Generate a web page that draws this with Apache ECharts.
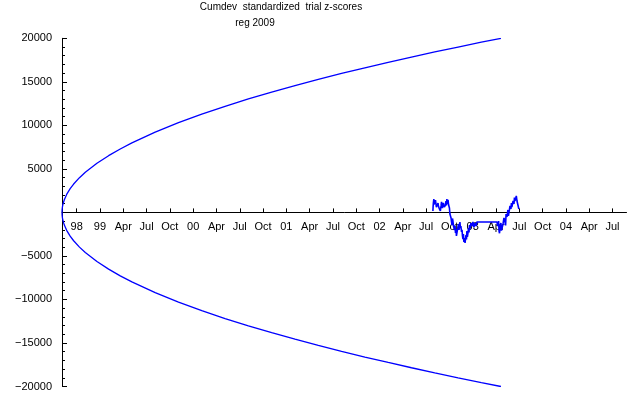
<!DOCTYPE html>
<html>
<head>
<meta charset="utf-8">
<script src="https://cdn.jsdelivr.net/npm/echarts@6/dist/echarts.min.js"></script>
<style>
  html, body { margin: 0; padding: 0; background: #fff; }
  #chart { width: 640px; height: 395px; }
</style>
</head>
<body>
<div id="chart"></div>
<script>
// ---- data (x in quarters since start of experiment, y = cumulative deviation) ----
const titleLine1 = 'Cumdev  standardized  trial z-scores';
const titleLine2 = 'reg 2009';

const xTickLabels = ['98','99','Apr','Jul','Oct','00','Apr','Jul','Oct','01','Apr','Jul','Oct',
                     '02','Apr','Jul','Oct','03','Apr','Jul','Oct','04','Apr','Jul'];
const firstTickOffset = 0.63;   // quarter position of first labelled tick
const xMax = 24.23;

const yMin = -20000, yMax = 20000, yStep = 5000;

// envelope
const envT     = [0, 0.005, 0.01, 0.02, 0.05, 0.1, 0.2, 0.35, 0.5, 0.75, 1, 1.5, 2, 2.5, 3, 4, 5, 6, 7, 8, 9, 10, 11, 12, 13, 14, 15, 16, 17, 18, 18.84];
const envUpper = [0, 326, 461, 652, 1030, 1457, 2061, 2726, 3258, 3990, 4608, 5643, 6516, 7285, 7981, 9216, 10303, 11287, 12191, 13033, 13823, 14571, 15282, 15962, 16614, 17241, 17846, 18431, 18999, 19549, 20000];
const envLower = [0, -326, -461, -652, -1030, -1457, -2061, -2726, -3258, -3990, -4608, -5643, -6516, -7285, -7981, -9216, -10303, -11287, -12191, -13033, -13823, -14571, -15282, -15962, -16614, -17241, -17846, -18431, -18999, -19549, -20000];

// cumulative deviation trace
const cumT = [15.92, 15.93, 15.94, 15.96, 15.97, 15.99, 16.01, 16.03, 16.05, 16.07, 16.09, 16.12, 16.14, 16.16, 16.18, 16.20, 16.22, 16.24, 16.27, 16.29, 16.31, 16.33, 16.35, 16.37, 16.39, 16.41, 16.44, 16.46, 16.48, 16.50, 16.52, 16.55, 16.57, 16.59, 16.61, 16.63,
              16.65, 16.70, 16.72, 16.74, 16.76, 16.78, 16.80, 16.82, 16.85, 16.87, 16.89, 16.91, 16.93, 16.95, 16.98, 17.00, 17.02, 17.04, 17.06, 17.08, 17.10, 17.12, 17.15, 17.17, 17.19, 17.21, 17.23, 17.25, 17.28, 17.30, 17.32, 17.34, 17.36, 17.38, 17.40, 17.42, 17.45, 17.47, 17.49, 17.51,
              17.55, 17.60, 17.64, 17.68, 17.73, 17.77, 17.81, 17.85,
              18.67, 18.71, 18.74, 18.76, 18.78, 18.80, 18.84, 18.86, 18.88, 18.93, 18.97, 19.01, 19.04, 19.06, 19.10, 19.14, 19.16, 19.18, 19.23, 19.27, 19.29, 19.31, 19.36, 19.40, 19.42, 19.44, 19.48, 19.50, 19.53, 19.57, 19.61, 19.64];
const cumDev = [160, 700, 1080, 1540, 900, 1310, 970, 1400, 1310, 600, 740, 390, 1080, 700, 850, 400, 510, 160, 740, 1200, 1080, 500, 630, 1100, 970, 600, 390, 850, 1310, 800, 1540, 970, 1430, 900, 1080, 510,
                -180, -640, -1100, -1450, -700, -990, -1500, -1680, -2020, -1500, -2370, -1910, -2700, -2480, -1900, -1680, -1330, -2000, -1790, -1100, -1800, -1560, -2250, -2000, -2710, -3060, -2500, -3400, -2940, -3500, -3290, -2600, -3100, -2140, -2800, -2480, -1790, -2300, -1450, -1910,
                -1220, -1560, -1100, -1700, -1220, -1560, -1100, -1100,
                -1100, -1560, -1000, -2140, -2400, -1680, -1220, -2100, -1910, -1330, -640, -990, -1500, -180, -530, 280, -400, -70, 740, 390, 1080, 620, 1310, 970, 1700, 1300, 1660, 1890, 1310, 850, 390];

// ---- build ----
const xTickValues = xTickLabels.map((_, i) => +(firstTickOffset + i).toFixed(2));
const pairs = (xs, ys) => xs.map((x, i) => [x, ys[i]]);
const FONT = 'Liberation Sans, Arial, sans-serif';
const BLUE = '#0000ff';
const GRID = { left: 62, top: 38.3, width: 564.5, height: 348.2 };

const chart = echarts.init(document.getElementById('chart'), null, { renderer: 'canvas' });
chart.setOption({
  animation: false,
  backgroundColor: '#ffffff',
  title: [
    { text: titleLine1, left: 281, top: 2, textAlign: 'center', padding: 0,
      textStyle: { fontSize: 10, fontWeight: 'normal', fontFamily: FONT, color: '#000' } },
    { text: titleLine2, left: 255, top: 18, textAlign: 'center', padding: 0,
      textStyle: { fontSize: 10, fontWeight: 'normal', fontFamily: FONT, color: '#000' } }
  ],
  grid: Object.assign({ containLabel: false, outerBoundsMode: 'none' }, GRID),
  xAxis: {
    type: 'value', min: 0, max: xMax, position: 'bottom',
    // place the axis (line, ticks and labels) on y = 0, the middle of the symmetric y range
    offset: -GRID.height * (0 - yMin) / (yMax - yMin),
    axisLine: { onZero: false, lineStyle: { color: '#000', width: 1 } },
    axisTick: { show: true, inside: true, length: 4, customValues: xTickValues, lineStyle: { color: '#000' } },
    axisLabel: {
      show: true, customValues: xTickValues, margin: 9,
      color: '#000', fontSize: 11, fontFamily: FONT,
      formatter: v => {
        const i = Math.round(v - firstTickOffset);
        return xTickLabels[i] !== undefined ? xTickLabels[i] : '';
      }
    },
    splitLine: { show: false }
  },
  yAxis: {
    type: 'value', min: yMin, max: yMax, interval: yStep,
    axisLine: { show: true, onZero: false, lineStyle: { color: '#000', width: 1 } },
    axisTick: { show: true, inside: true, length: 5, lineStyle: { color: '#000' } },
    minorTick: { show: true, splitNumber: 5, length: 3, lineStyle: { color: '#000' } },
    axisLabel: {
      color: '#000', fontSize: 11, fontFamily: FONT, margin: 10,
      formatter: v => (v === 0 ? '' : (v < 0 ? '\u2212' + Math.abs(v) : String(v)))
    },
    splitLine: { show: false }
  },
  series: [
    { type: 'line', data: pairs(envT, envUpper), showSymbol: false, smooth: false,
      lineStyle: { color: BLUE, width: 1.3 }, itemStyle: { color: BLUE } },
    { type: 'line', data: pairs(envT, envLower), showSymbol: false, smooth: false,
      lineStyle: { color: BLUE, width: 1.3 }, itemStyle: { color: BLUE } },
    { type: 'line', data: pairs(cumT, cumDev), showSymbol: false, smooth: false,
      lineStyle: { color: BLUE, width: 1.6 }, itemStyle: { color: BLUE } }
  ]
});
</script>
</body>
</html>
